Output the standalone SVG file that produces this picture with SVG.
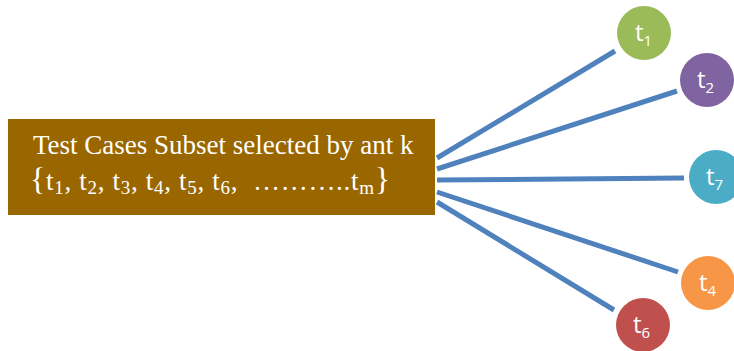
<svg xmlns="http://www.w3.org/2000/svg" width="734" height="351" viewBox="0 0 734 351">
<style>
.box{fill:#996600}
.bt{font-family:"Liberation Serif",serif;fill:#ffffff;font-size:27px}
.con{stroke:#4f81bd;stroke-width:5;fill:none}
.nt{font-family:"Open Sans","Liberation Sans",sans-serif;fill:#ffffff;font-size:24px}
.sub{font-size:15px}
.bs{font-size:19px}
</style>
<rect width="734" height="351" fill="#ffffff"/>
<g id="connectors">
<line class="con" x1="437" y1="158" x2="615" y2="51"/>
<line class="con" x1="437" y1="169" x2="677" y2="91"/>
<line class="con" x1="437" y1="180" x2="684" y2="178"/>
<line class="con" x1="437" y1="192" x2="678" y2="272"/>
<line class="con" x1="437" y1="202" x2="614" y2="310"/>
</g>
<g id="subset">
<rect class="box" x="8" y="119" width="427" height="96"/>
<text class="bt" x="33" y="154">Test Cases Subset selected by ant k</text>
<text class="bt" x="30" y="190" font-size="28" textLength="360" lengthAdjust="spacing"><tspan font-size="32">{</tspan>t<tspan class="bs" dy="4">1</tspan><tspan dy="-4">, t</tspan><tspan class="bs" dy="4">2</tspan><tspan dy="-4">, t</tspan><tspan class="bs" dy="4">3</tspan><tspan dy="-4">, t</tspan><tspan class="bs" dy="4">4</tspan><tspan dy="-4">, t</tspan><tspan class="bs" dy="4">5</tspan><tspan dy="-4">, t</tspan><tspan class="bs" dy="4">6</tspan><tspan dy="-4" xml:space="preserve">,  ………..t</tspan><tspan class="bs" dy="4">m</tspan><tspan dy="-4" font-size="32">}</tspan></text>
</g>
<g id="t1">
<circle cx="644" cy="33" r="27" fill="#9bbb59"/>
<text class="nt" x="635" y="41">t<tspan class="sub" dy="5">1</tspan></text>
</g>
<g id="t2">
<circle cx="707" cy="80" r="27" fill="#8064a2"/>
<text class="nt" x="697" y="88">t<tspan class="sub" dy="5">2</tspan></text>
</g>
<g id="t7">
<circle cx="716" cy="177" r="27" fill="#4bacc6"/>
<text class="nt" x="706" y="185">t<tspan class="sub" dy="5">7</tspan></text>
</g>
<g id="t4">
<circle cx="708" cy="283" r="27" fill="#f79646"/>
<text class="nt" x="699" y="291">t<tspan class="sub" dy="5">4</tspan></text>
</g>
<g id="t6">
<circle cx="643" cy="325" r="27" fill="#c0504d"/>
<text class="nt" x="633" y="333">t<tspan class="sub" dy="5">6</tspan></text>
</g>
</svg>
